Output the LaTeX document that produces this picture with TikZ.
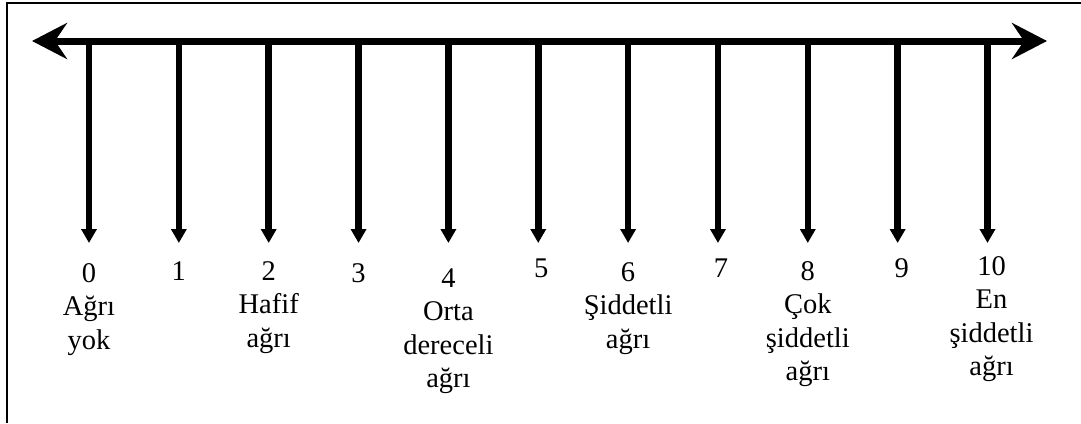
\documentclass[tikz,border=0pt]{standalone}
\usepackage{fontspec}
\setmainfont{Liberation Serif}
\usetikzlibrary{arrows.meta}
\begin{document}
\begin{tikzpicture}[x=1pt,y=-1pt,
  lbl/.style={anchor=base, inner sep=0pt, font=\fontsize{28.5}{33.5}\selectfont},
  tickarrow/.style={line width=6.5pt, -{Triangle[length=14pt,width=15pt]}},
  axis/.style={line width=7pt, {Stealth[length=35pt,width=36pt,inset=12pt]}-{Stealth[length=35pt,width=36pt,inset=12pt]}},
  frame/.style={line width=1.5pt}]
\useasboundingbox (0,0) rectangle (1081,423);
\draw[frame] (7,423) -- (7,3) -- (1081,3);
\coordinate (L) at (32,41);
\coordinate (R) at (1047,41);
\draw[axis] (L) -- (R);
\foreach \i in {0,...,10}{
  \coordinate (t\i) at ({89+89.85*\i},41);
  \coordinate (b\i) at ({89+89.85*\i},243);
  \draw[tickarrow] (t\i) -- (b\i);
}
\foreach \i/\dx/\yb/\lines in {
  0/0/282/{0,Ağrı,yok},
  1/0/280/{1},
  2/0/280/{2,Hafif,ağrı},
  3/0/282/{3},
  4/0/287/{4,Orta,dereceli,ağrı},
  5/3/277/{5},
  6/0/281/{6,Şiddetli,ağrı},
  7/3/277/{7},
  8/0/280/{8,Çok,şiddetli,ağrı},
  9/4/277/{9},
  10/4/275/{10,En,şiddetli,ağrı}}{
  \foreach \t [count=\k from 0] in \lines {
    \node[lbl] (n\i-\k) at ({89+89.85*\i+\dx},{\yb+33.5*\k}) {\t};
  }
}
\end{tikzpicture}
\end{document}
